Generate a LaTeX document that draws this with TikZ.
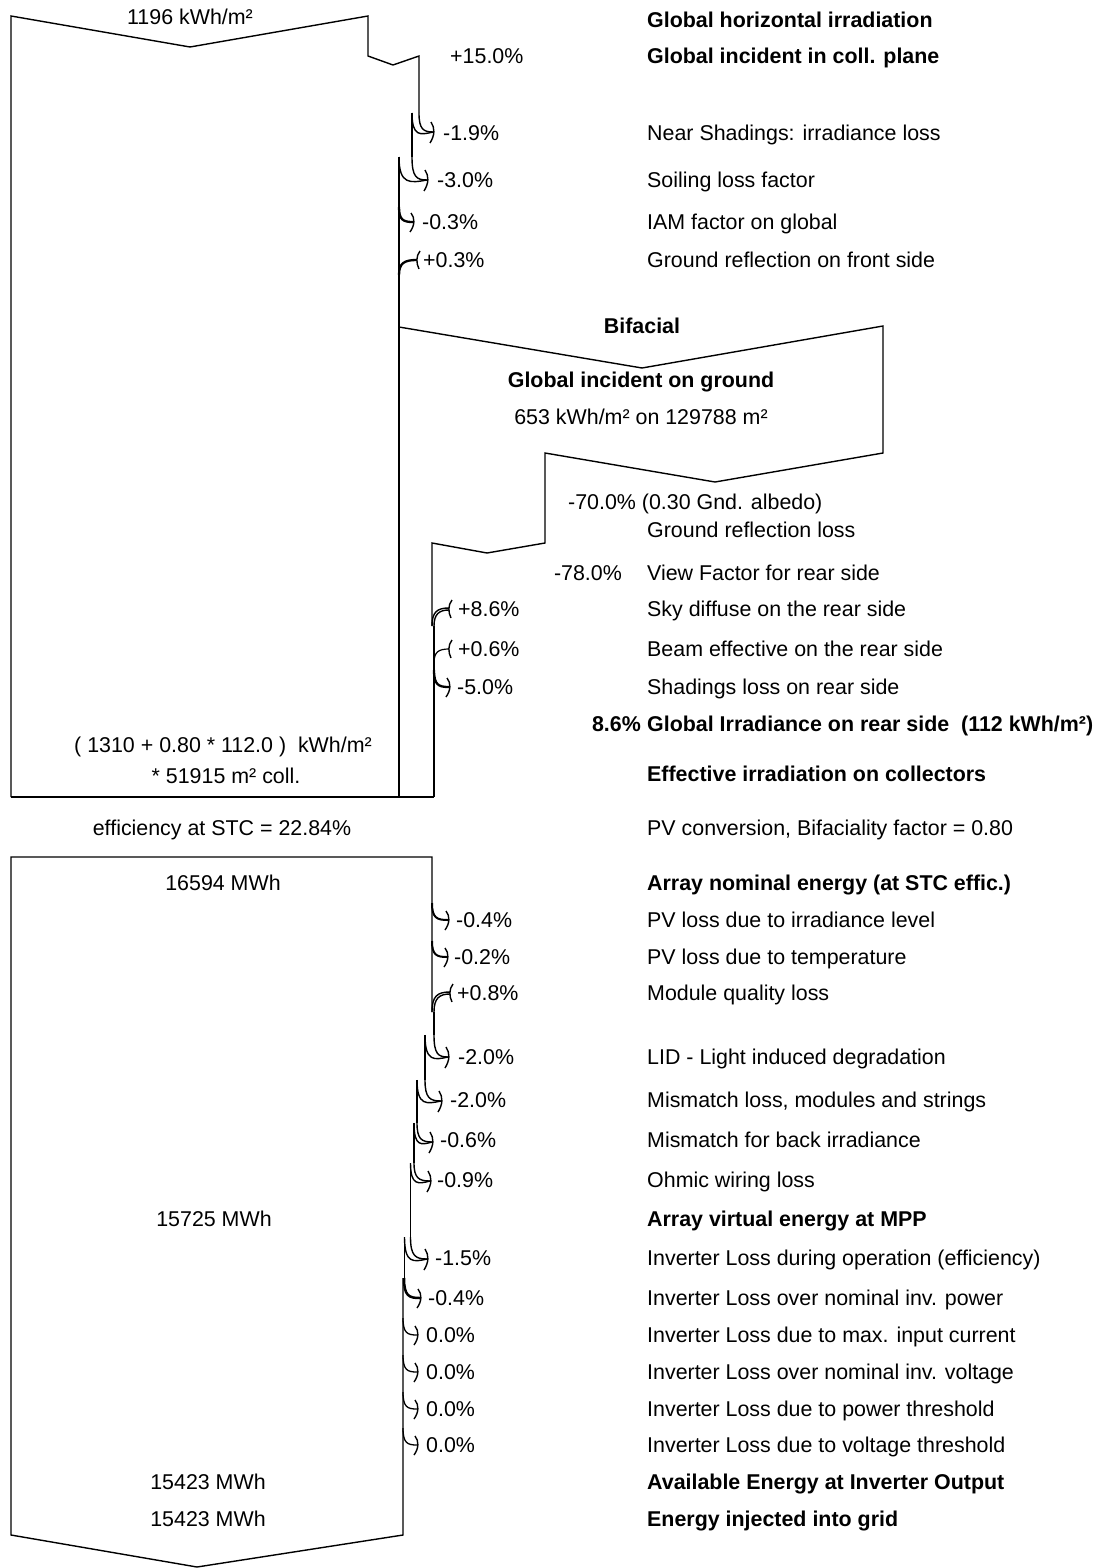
\documentclass[tikz,border=0pt]{standalone}
\usepackage{fontspec}
\setmainfont{Liberation Sans}
\newcommand{\lossarr}[5]{%
  \draw[flow] (#1,#3) .. controls (#1,{#5-3}) and ({#1+0.3*(#4-#1)},{#5}) .. (#4,#5);
  \draw[flow] (#2,#3) .. controls (#2,{#5+5}) and ({#2+0.4*(#4-#2)},{#5+3}) .. (#4,#5);
  \draw[flow] ({#4-2},{#5-10}) .. controls ({#4+2},{#5-4}) and ({#4+2},{#5+3}) .. ({#4-3},{#5+11});
}
\newcommand{\thinloss}[5]{%
  \draw[line width=#5] (#1,#2) .. controls (#1,{#4-2}) and ({#1+0.3*(#3-#1)},{#4}) .. (#3,#4);
  \draw[flow] ({#3-2},{#4-9}) .. controls ({#3+2},{#4-4}) and ({#3+2},{#4+3}) .. ({#3-3},{#4+10});
}
\newcommand{\gainarr}[5]{%
  \draw[flow] (#1,#3) .. controls (#1,{#5+3}) and ({#1+0.3*(#4-#1)},{#5-1}) .. (#4,{#5-1});
  \draw[flow] (#2,#3) .. controls (#2,{#5+5}) and ({#2+0.35*(#4-#2)},{#5+1}) .. (#4,{#5+1});
  \draw[flow] ({#4+3},{#5-9}) .. controls ({#4-1},{#5-4}) and ({#4-1},{#5+3}) .. ({#4+2},{#5+9});
}
\newcommand{\thingain}[5]{%
  \draw[line width=#5] (#1,#2) .. controls (#1,{#4+3}) and ({#1+0.3*(#3-#1)},{#4}) .. (#3,#4);
  \draw[flow] ({#3+3},{#4-9}) .. controls ({#3-1},{#4-4}) and ({#3-1},{#4+3}) .. ({#3+2},{#4+9});
}
\begin{document}
\begin{tikzpicture}[x=1pt,y=-1pt,
  flow/.style={draw=black,line width=1.4pt},
  txt/.style={inner sep=0pt,font=\fontsize{21.4}{25}\selectfont,anchor=base west,yshift=-7.7pt},
  ctxt/.style={inner sep=0pt,font=\fontsize{21.4}{25}\selectfont,anchor=base,yshift=-7.7pt},
  btxt/.style={txt,font=\fontsize{21.4}{25}\selectfont\bfseries},
  bctxt/.style={ctxt,font=\fontsize{21.4}{25}\selectfont\bfseries}]
\useasboundingbox (0,0) rectangle (1102,1568);
\fill[white] (0,0) rectangle (1102,1568);

% ---------- top block (irradiation) ----------
\draw[flow] (11,797) -- (11,16) -- (190,47) -- (368,16) -- (368,56) -- (393,65) -- (419,56) -- (419,113);
\lossarr{419}{412}{113}{433}{132}
\draw[flow] (412,113) -- (412,157);
\lossarr{412}{399}{157}{427}{180}
\draw[flow] (399,157) -- (399,797);
\thinloss{399}{207}{413}{222}{2.3}
\thingain{399}{275}{417}{260}{2.3}
\draw[flow] (11,797) -- (434,797);

% ---------- bifacial ----------
\draw[flow] (399,327) -- (642,368) -- (883,326) -- (883,453) -- (715,482) -- (545,453) -- (545,543) -- (487,553) -- (432,543) -- (432,626);
\gainarr{432}{434}{626}{449}{609}
\draw[flow] (434,626) -- (434,797);
\thingain{434}{663}{449}{649}{1.2}
\thinloss{434}{670}{449}{687}{2.3}

% ---------- lower block (energy) ----------
\draw[flow] (432,1012) -- (432,857) -- (11,857) -- (11,1535) -- (197,1567) -- (403,1535) -- (403,1278);
\thinloss{432}{903}{448}{920}{2}
\thinloss{432}{941}{447}{957}{2}
\gainarr{432}{434}{1012}{450}{993}
\draw[flow] (434,1012) -- (434,1035);
\lossarr{434}{425}{1035}{448}{1057}
\draw[flow] (425,1035) -- (425,1080);
\lossarr{425}{417}{1080}{441}{1101}
\draw[flow] (417,1080) -- (417,1123);
\lossarr{417}{414}{1123}{432}{1142}
\draw[flow] (414,1123) -- (414,1163);
\lossarr{414}{410.5}{1163}{430}{1181}
\draw[flow] (410.5,1163) -- (410.5,1237);
\lossarr{410.5}{404.5}{1237}{427}{1259}
\draw[flow] (404.5,1237) -- (404.5,1278);
\thinloss{404}{1278}{420}{1298}{2.5}
\thinloss{403}{1318}{417}{1335}{1.3}
\thinloss{403}{1355}{417}{1372}{1.3}
\thinloss{403}{1392}{417}{1409}{1.3}
\thinloss{403}{1428}{417}{1445}{1.3}

% ---------- left texts ----------
\node[ctxt] (v1) at (190,17) {1196 kWh/m²};
\node[ctxt] (v2) at (223,745) {( 1310 + 0.80 * 112.0 )\ \ kWh/m²};
\node[ctxt] (v3) at (226,776) {* 51915 m² coll.};
\node[ctxt] (v4) at (222,828) {efficiency at STC = 22.84\%};
\node[ctxt] (v5) at (223,883) {16594 MWh};
\node[ctxt] (v6) at (214,1219) {15725 MWh};
\node[ctxt] (v7) at (208,1482) {15423 MWh};
\node[ctxt] (v8) at (208,1519) {15423 MWh};

% ---------- percentages ----------
\node[txt] (p1) at (450,56) {+15.0\%};
\node[txt] (p2) at (443,133) {-1.9\%};
\node[txt] (p3) at (437,180) {-3.0\%};
\node[txt] (p4) at (422,222) {-0.3\%};
\node[txt] (p5) at (423,260) {+0.3\%};
\node[txt] (p6) at (568,502) {-70.0\% (0.30 Gnd. albedo)};
\node[txt,anchor=base east] (p7) at (622,573) {-78.0\%};
\node[btxt,anchor=base east] (p11) at (641,724) {8.6\%};
\node[txt] (p8) at (458,609) {+8.6\%};
\node[txt] (p9) at (458,649) {+0.6\%};
\node[txt] (p10) at (457,687) {-5.0\%};
\node[txt] (p12) at (456,920) {-0.4\%};
\node[txt] (p13) at (454,957) {-0.2\%};
\node[txt] (p14) at (457,993) {+0.8\%};
\node[txt] (p15) at (458,1057) {-2.0\%};
\node[txt] (p16) at (450,1100) {-2.0\%};
\node[txt] (p17) at (440,1140) {-0.6\%};
\node[txt] (p18) at (437,1180) {-0.9\%};
\node[txt] (p19) at (435,1258) {-1.5\%};
\node[txt] (p20) at (428,1298) {-0.4\%};
\node[txt] (p21) at (426,1335) {0.0\%};
\node[txt] (p22) at (426,1372) {0.0\%};
\node[txt] (p23) at (426,1409) {0.0\%};
\node[txt] (p24) at (426,1445) {0.0\%};

% ---------- bifacial texts ----------
\node[bctxt] (b1) at (642,326) {Bifacial};
\node[bctxt] (b2) at (641,380) {Global incident on ground};
\node[ctxt] (b3) at (641,417) {653 kWh/m² on 129788 m²};

% ---------- right labels ----------
\node[btxt] (l1) at (647,20) {Global horizontal irradiation};
\node[btxt] (l2) at (647,56) {Global incident in coll. plane};
\node[txt] (l3) at (647,133) {Near Shadings: irradiance loss};
\node[txt] (l4) at (647,180) {Soiling loss factor};
\node[txt] (l5) at (647,222) {IAM factor on global};
\node[txt] (l6) at (647,260) {Ground reflection on front side};
\node[txt] (l7) at (647,530) {Ground reflection loss};
\node[txt] (l8) at (647,573) {View Factor for rear side};
\node[txt] (l9) at (647,609) {Sky diffuse on the rear side};
\node[txt] (l10) at (647,649) {Beam effective on the rear side};
\node[txt] (l11) at (647,687) {Shadings loss on rear side};
\node[btxt] (l12) at (647,724) {Global Irradiance on rear side\ \ (112 kWh/m²)};
\node[btxt] (l13) at (647,774) {Effective irradiation on collectors};
\node[txt] (l14) at (647,828) {PV conversion, Bifaciality factor = 0.80};
\node[btxt] (l15) at (647,883) {Array nominal energy (at STC effic.)};
\node[txt] (l16) at (647,920) {PV loss due to irradiance level};
\node[txt] (l17) at (647,957) {PV loss due to temperature};
\node[txt] (l18) at (647,993) {Module quality loss};
\node[txt] (l19) at (647,1057) {LID - Light induced degradation};
\node[txt] (l20) at (647,1100) {Mismatch loss, modules and strings};
\node[txt] (l21) at (647,1140) {Mismatch for back irradiance};
\node[txt] (l22) at (647,1180) {Ohmic wiring loss};
\node[btxt] (l23) at (647,1219) {Array virtual energy at MPP};
\node[txt] (l24) at (647,1258) {Inverter Loss during operation (efficiency)};
\node[txt] (l25) at (647,1298) {Inverter Loss over nominal inv. power};
\node[txt] (l26) at (647,1335) {Inverter Loss due to max. input current};
\node[txt] (l27) at (647,1372) {Inverter Loss over nominal inv. voltage};
\node[txt] (l28) at (647,1409) {Inverter Loss due to power threshold};
\node[txt] (l29) at (647,1445) {Inverter Loss due to voltage threshold};
\node[btxt] (l30) at (647,1482) {Available Energy at Inverter Output};
\node[btxt] (l31) at (647,1519) {Energy injected into grid};
\end{tikzpicture}
\end{document}
